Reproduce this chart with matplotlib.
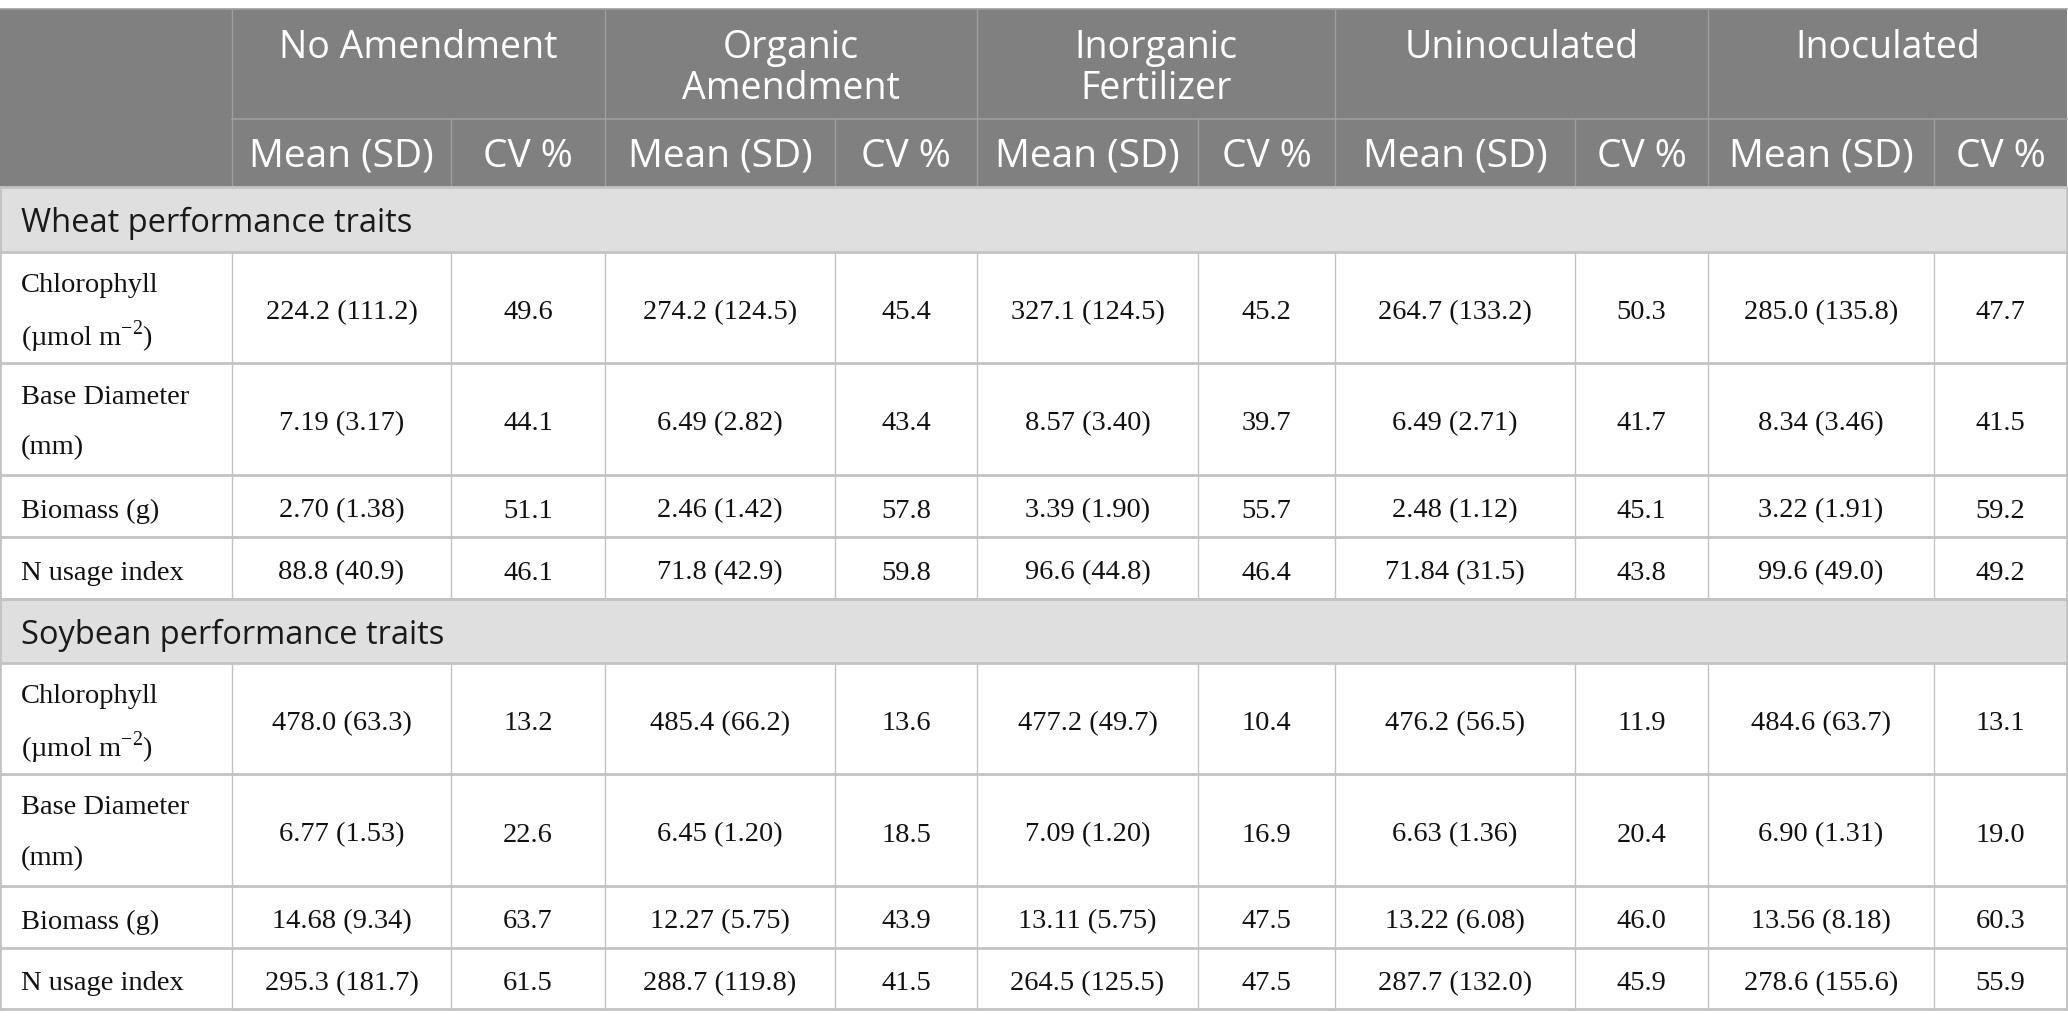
import matplotlib
matplotlib.use("Agg")
import matplotlib.pyplot as plt
from matplotlib.patches import Rectangle

plt.rcParams["mathtext.fontset"] = "custom"
plt.rcParams["mathtext.rm"] = "Liberation Serif"

# ---- table content
groups = [["No Amendment"], ["Organic", "Amendment"], ["Inorganic", "Fertilizer"],
          ["Uninoculated"], ["Inoculated"]]
subheads = ["Mean (SD)", "CV %"]
sections = ["Wheat performance traits", "Soybean performance traits"]
traits = [["Chlorophyll", "(\u00b5mol m$^{\\mathregular{-2}}$)"],
          ["Base Diameter", "(mm)"],
          ["Biomass (g)"], ["N usage index"]]

wheat_mean_sd = [
    ["224.2 (111.2)", "274.2 (124.5)", "327.1 (124.5)", "264.7 (133.2)", "285.0 (135.8)"],
    ["7.19 (3.17)", "6.49 (2.82)", "8.57 (3.40)", "6.49 (2.71)", "8.34 (3.46)"],
    ["2.70 (1.38)", "2.46 (1.42)", "3.39 (1.90)", "2.48 (1.12)", "3.22 (1.91)"],
    ["88.8 (40.9)", "71.8 (42.9)", "96.6 (44.8)", "71.84 (31.5)", "99.6 (49.0)"],
]
wheat_cv = [
    ["49.6", "45.4", "45.2", "50.3", "47.7"],
    ["44.1", "43.4", "39.7", "41.7", "41.5"],
    ["51.1", "57.8", "55.7", "45.1", "59.2"],
    ["46.1", "59.8", "46.4", "43.8", "49.2"],
]
soy_mean_sd = [
    ["478.0 (63.3)", "485.4 (66.2)", "477.2 (49.7)", "476.2 (56.5)", "484.6 (63.7)"],
    ["6.77 (1.53)", "6.45 (1.20)", "7.09 (1.20)", "6.63 (1.36)", "6.90 (1.31)"],
    ["14.68 (9.34)", "12.27 (5.75)", "13.11 (5.75)", "13.22 (6.08)", "13.56 (8.18)"],
    ["295.3 (181.7)", "288.7 (119.8)", "264.5 (125.5)", "287.7 (132.0)", "278.6 (155.6)"],
]
soy_cv = [
    ["13.2", "13.6", "10.4", "11.9", "13.1"],
    ["22.6", "18.5", "16.9", "20.4", "19.0"],
    ["63.7", "43.9", "47.5", "46.0", "60.3"],
    ["61.5", "41.5", "47.5", "45.9", "55.9"],
]

# ---- layout (pixels)
W, H = 2068, 1027
col_x = [0, 232, 451, 605, 835, 977, 1198, 1335, 1575, 1708, 1934, 2067]
top, h1, h2 = 9, 119, 187
wheat_y = [187, 252, 363, 475, 537, 599]
soy_y = [599, 663, 774, 886, 948, 1009]

HEAD_BG = "#7f807f"
HEAD_LINE = "#9d9e9d"
SEC_BG = "#e0dfe0"
GRID = "#c3c3c3"
SANS = "Open Sans"
SERIF = "Liberation Serif"
INK = "#111111"

fig = plt.figure(figsize=(W / 100, H / 100), dpi=100)
ax = fig.add_axes([0, 0, 1, 1])
ax.set_xlim(0, W)
ax.set_ylim(H, 0)
ax.axis("off")

# header background
ax.add_patch(Rectangle((0, top), col_x[-1], h2 - top, color=HEAD_BG, lw=0))
for i, g in enumerate(groups):
    x0, x1 = col_x[1 + 2 * i], col_x[3 + 2 * i]
    for k, line in enumerate(g):
        ax.text((x0 + x1) / 2, 48 + 41 * k, line, ha="center", va="center",
                color="white", family=SANS, fontsize=27)
    for j, s in enumerate(subheads):
        a, b = col_x[1 + 2 * i + j], col_x[2 + 2 * i + j]
        ax.text((a + b) / 2, (h1 + h2) / 2 + 4, s, ha="center", va="center",
                color="white", family=SANS, fontsize=28)
# header lines
ax.plot([col_x[1], col_x[-1]], [h1, h1], color=HEAD_LINE, lw=1.2)
ax.plot([0, col_x[-1]], [top, top], color=HEAD_LINE, lw=1.2)
for k, x in enumerate(col_x[1:-1], start=1):
    y0 = top if k % 2 == 1 else h1
    ax.plot([x, x], [y0, h2], color=HEAD_LINE, lw=1.0)


def draw_section(ys, title, mean_sd, cv):
    ax.add_patch(Rectangle((0, ys[0]), col_x[-1], ys[1] - ys[0], color=SEC_BG, lw=0))
    ax.text(21, (ys[0] + ys[1]) / 2 + 4, title, ha="left", va="center",
            family=SANS, fontsize=23.5, color="#1a1a1a")
    for r, trait in enumerate(traits):
        y0, y1 = ys[r + 1], ys[r + 2]
        yc = (y0 + y1) / 2
        if len(trait) == 1:
            ax.text(21, yc + 5, trait[0], ha="left", va="center", family=SERIF,
                    fontsize=20.5, color=INK)
        else:
            ax.text(21, yc - 22, trait[0], ha="left", va="center", family=SERIF,
                    fontsize=20.5, color=INK)
            ax.text(21, yc + 29, trait[1], ha="left", va="center", family=SERIF,
                    fontsize=20.5, color=INK)
        for i in range(len(groups)):
            a, b, c = col_x[1 + 2 * i], col_x[2 + 2 * i], col_x[3 + 2 * i]
            ax.text((a + b) / 2, yc + 5, mean_sd[r][i], ha="center", va="center",
                    family=SERIF, fontsize=20.5, color=INK)
            ax.text((b + c) / 2, yc + 5, cv[r][i], ha="center", va="center",
                    family=SERIF, fontsize=20.5, color=INK)
        for x in col_x[1:-1]:
            ax.plot([x, x], [y0, y1], color=GRID, lw=1.0)
    for y in ys:
        ax.plot([0, col_x[-1]], [y, y], color=GRID, lw=2.0)
    ax.plot([0, 0], [ys[0], ys[-1]], color=GRID, lw=2.0)
    ax.plot([col_x[-1], col_x[-1]], [ys[0], ys[-1]], color=GRID, lw=2.0)


draw_section(wheat_y, sections[0], wheat_mean_sd, wheat_cv)
draw_section(soy_y, sections[1], soy_mean_sd, soy_cv)

fig.savefig("out.png", dpi=100)
